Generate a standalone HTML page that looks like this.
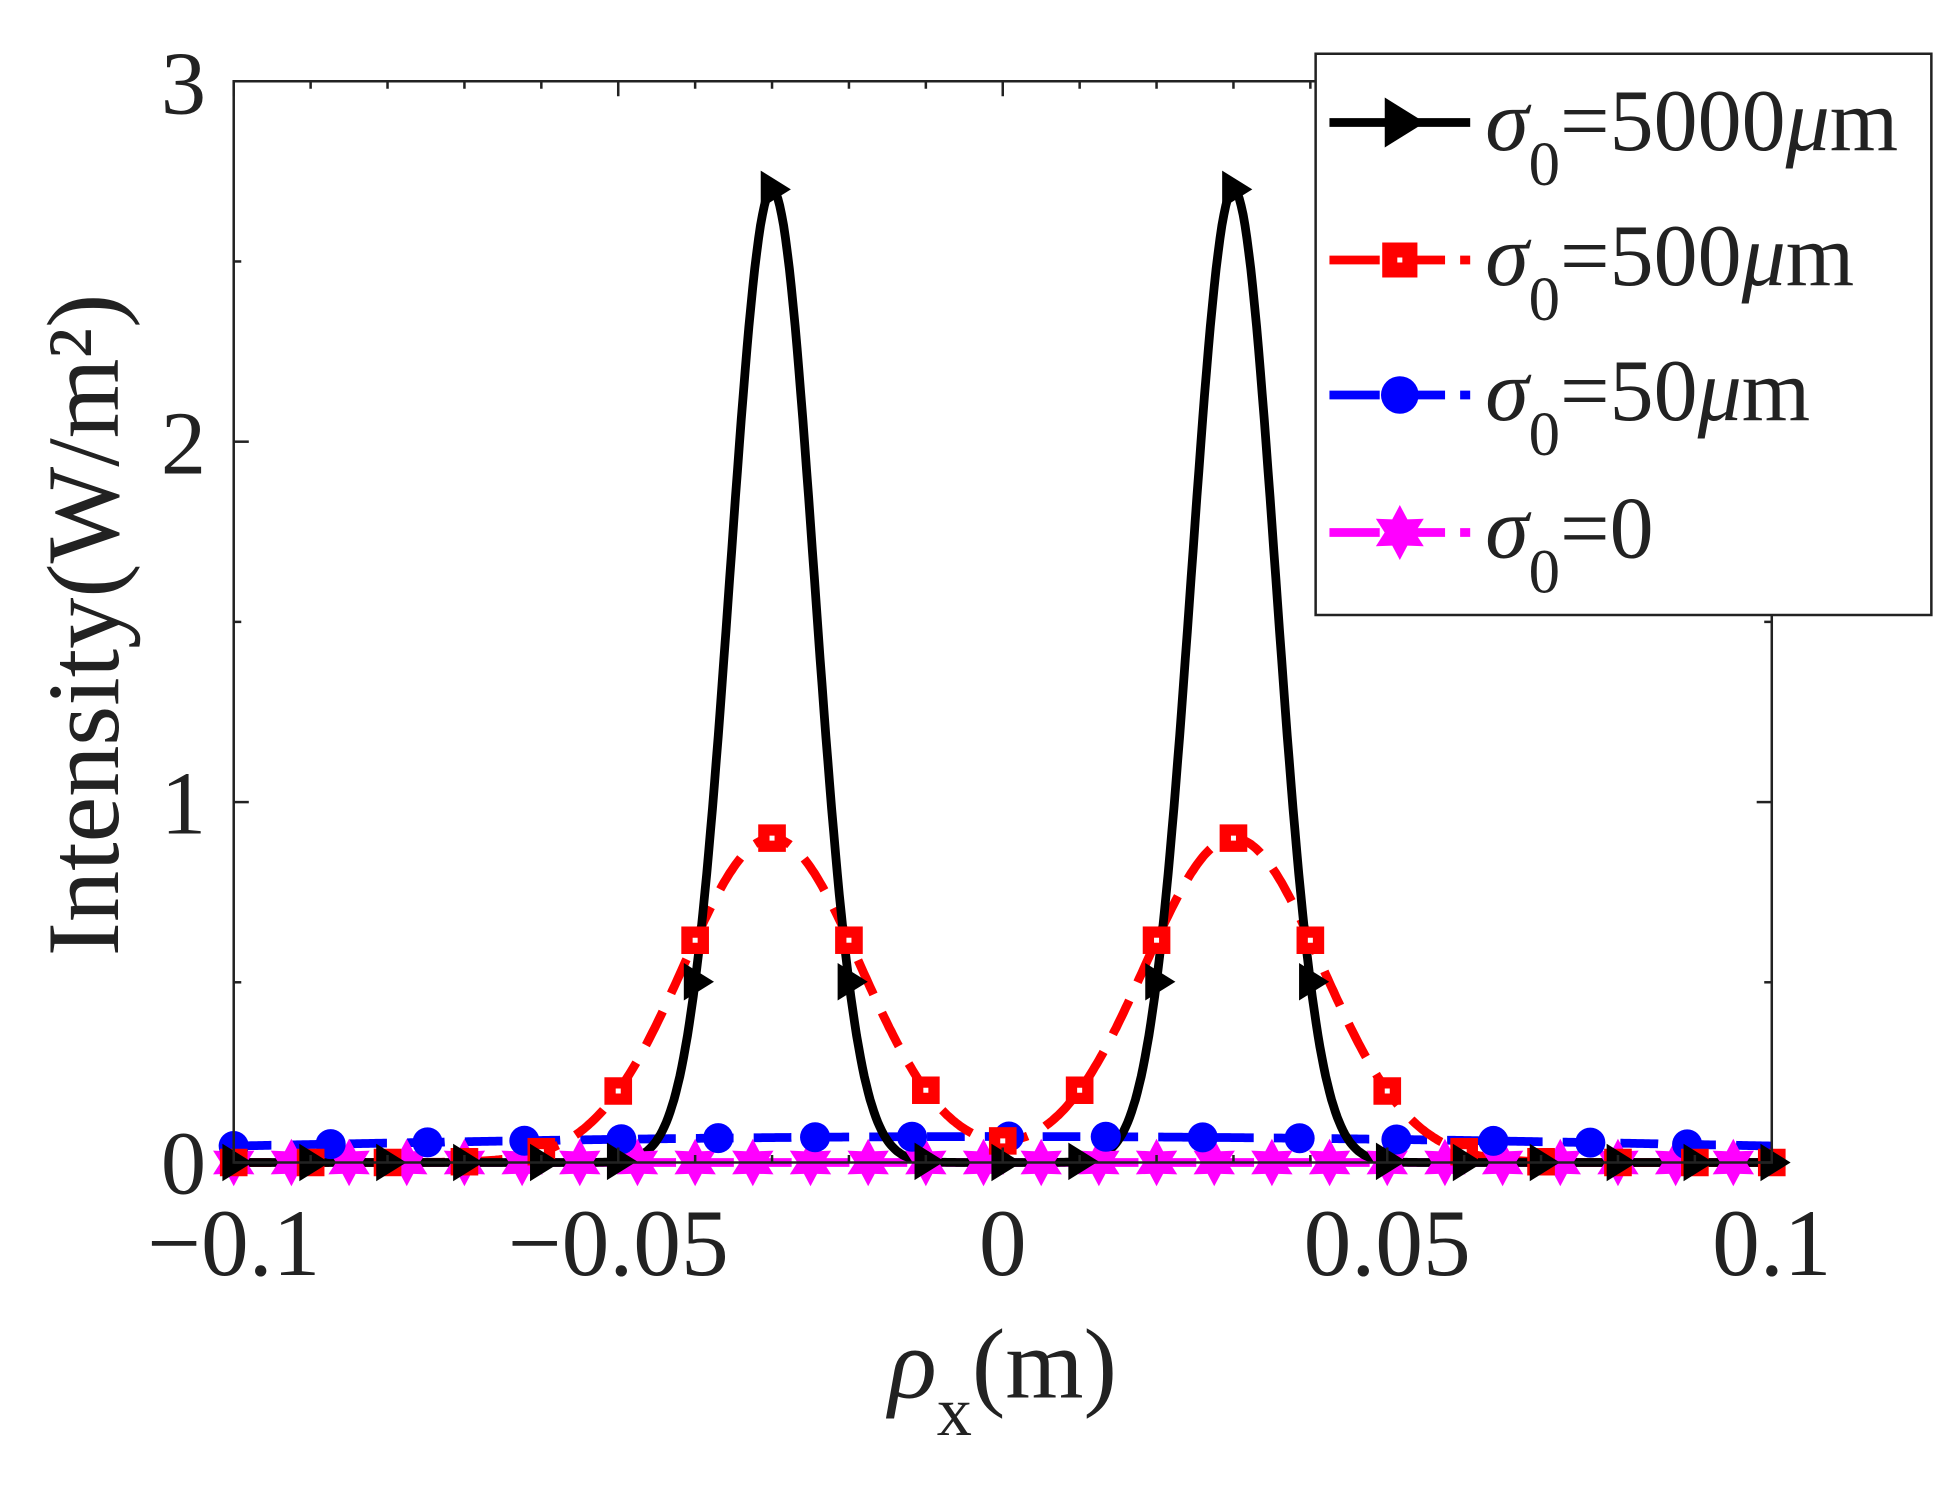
<!DOCTYPE html>
<html><head><meta charset="utf-8"><style>
html,body{margin:0;padding:0;background:#fff;}
svg{display:block;}
text{font-family:"Liberation Serif",serif;fill:#222;}
</style></head><body>
<svg id="s" width="1959" height="1500" viewBox="0 0 1559 1200" preserveAspectRatio="none" xmlns="http://www.w3.org/2000/svg">
<rect x="0" y="0" width="1559" height="1200" fill="#fff"/>
<g id="plot"></g>
<rect x="186" y="65" width="1224" height="865" fill="none" stroke="#222" stroke-width="2"/>
<g id="ticks" stroke="#222" stroke-width="2"></g>
<g font-size="76" text-anchor="middle">
<text x="186" y="1020">−0.1</text>
<text x="492" y="1020">−0.05</text>
<text x="798" y="1020">0</text>
<text x="1104" y="1020">0.05</text>
<text x="1410" y="1020">0.1</text>
</g>
<g font-size="72" text-anchor="end">
<text x="164" y="955">0</text>
<text x="164" y="667">1</text>
<text x="164" y="379">2</text>
<text x="164" y="91">3</text>
</g>
<text font-size="82" transform="translate(94,500) rotate(-90)" text-anchor="middle">Intensity(W/m²)</text>
<text font-size="80" x="798" y="1118" text-anchor="middle"><tspan font-style="italic">ρ</tspan><tspan font-size="56" dy="30">x</tspan><tspan dy="-30">(m)</tspan></text>
<rect x="1047" y="43" width="490" height="449" fill="#fff" stroke="#222" stroke-width="2"/>
<g id="leg"></g>
<g font-size="70">
<text x="1182" y="120"><tspan font-style="italic">σ</tspan><tspan font-size="50" dy="28">0</tspan><tspan dy="-28">=5000</tspan><tspan font-style="italic">μ</tspan>m</text>
<text x="1182" y="228"><tspan font-style="italic">σ</tspan><tspan font-size="50" dy="28">0</tspan><tspan dy="-28">=500</tspan><tspan font-style="italic">μ</tspan>m</text>
<text x="1182" y="336"><tspan font-style="italic">σ</tspan><tspan font-size="50" dy="28">0</tspan><tspan dy="-28">=50</tspan><tspan font-style="italic">μ</tspan>m</text>
<text x="1182" y="446"><tspan font-style="italic">σ</tspan><tspan font-size="50" dy="28">0</tspan><tspan dy="-28">=0</tspan></text>
</g>
<script>
var NS="http://www.w3.org/2000/svg";
function X(v){return 798+v*6120;}
function Y(v){return 930-v*288.33;}
function el(p,t,a){var e=document.createElementNS(NS,t);for(var k in a)e.setAttribute(k,a[k]);p.appendChild(e);return e;}
var plot=document.getElementById("plot"),leg=document.getElementById("leg"),tk=document.getElementById("ticks");
var g=function(x,m,s){return Math.exp(-0.5*Math.pow((x-m)/s,2));};
var fs=[
 function(x){return 2.7*(g(x,-0.03,0.00545)+g(x,0.03,0.00545));},
 function(x){return 0.9*(g(x,-0.03,0.0115)+g(x,0.03,0.0115));},
 function(x){return 0.072*g(x,0,0.105);},
 function(x){return 0;}
];
var cols=["#000","#f00","#00f","#f0f"],dash=["","30,16","30,16","30,16"];
function tri(p,x,y,c,r){el(p,"polygon",{points:(x-r*0.6)+","+(y-r)+" "+(x+r)+","+y+" "+(x-r*0.6)+","+(y+r),fill:c});}
function sq(p,x,y,c,r){el(p,"rect",{x:x-r,y:y-r,width:2*r,height:2*r,fill:c});el(p,"rect",{x:x-2,y:y-2,width:4,height:4,fill:"#fff"});}
function ci(p,x,y,c,r){el(p,"circle",{cx:x,cy:y,r:r,fill:c});}
function st(p,x,y,c,r){var pts=[];for(var i=0;i<12;i++){var a=i*Math.PI/6-Math.PI/2;var rr=i%2?r*0.55:r;pts.push((x+rr*Math.cos(a))+","+(y+rr*Math.sin(a)));}el(p,"polygon",{points:pts.join(" "),fill:c});}
var mk=[tri,sq,ci,st],steps=[0.01,0.01,0.0126,0.0075],rs=[15,11,12,19];
for(var k=3;k>=0;k--){
 var d="";for(var i=0;i<=800;i++){var x=-0.1+0.2*i/800;d+=(i?"L":"M")+X(x).toFixed(1)+","+Y(fs[k](x)).toFixed(1);}
 el(plot,"path",{d:d,fill:"none",stroke:cols[k],"stroke-width":7,"stroke-dasharray":dash[k]});
}
for(var k=3;k>=0;k--){
 for(var x=-0.1;x<=0.1001;x+=steps[k]){mk[k](plot,X(x),Y(fs[k](x)),cols[k],rs[k]);}
}
[-0.1,-0.05,0,0.05,0.1].forEach(function(v){var x=X(v);el(tk,"line",{x1:x,y1:930,x2:x,y2:918});el(tk,"line",{x1:x,y1:65,x2:x,y2:77});});
[-0.09,-0.08,-0.07,-0.06,-0.04,-0.03,-0.02,-0.01,0.01,0.02,0.03,0.04,0.06,0.07,0.08,0.09].forEach(function(v){var x=X(v);el(tk,"line",{x1:x,y1:930,x2:x,y2:924});el(tk,"line",{x1:x,y1:65,x2:x,y2:71});});
for(var v=0;v<=3.001;v+=0.5){var y=Y(v),L=(v%1==0)?12:6;el(tk,"line",{x1:186,y1:y,x2:186+L,y2:y});el(tk,"line",{x1:1410,y1:y,x2:1410-L,y2:y});}
var ly=[98,208,316,426];
for(var k=0;k<4;k++){el(leg,"path",{d:"M1058,"+ly[k]+"L1170,"+ly[k],stroke:cols[k],"stroke-width":7,"stroke-dasharray":k?"40,12":""});mk[k](leg,1114,ly[k],cols[k],k==0?20:rs[k]+3);}
</script>
</svg>
</body></html>
